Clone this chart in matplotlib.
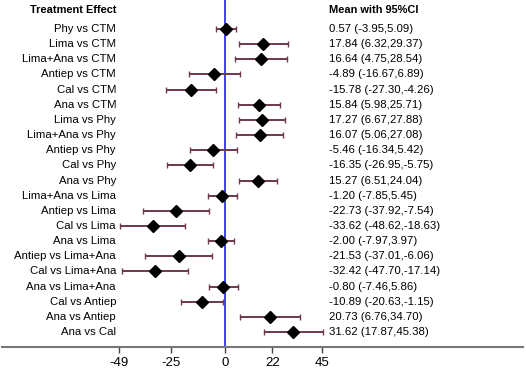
import matplotlib
matplotlib.use('Agg')
import matplotlib.pyplot as plt
import numpy as np

plt.rcParams['font.family'] = ['Liberation Sans', 'DejaVu Sans']

# Data
labels = ['Phy vs CTM', 'Lima vs CTM', 'Lima+Ana vs CTM', 'Antiep vs CTM', 'Cal vs CTM',
          'Ana vs CTM', 'Lima vs Phy', 'Lima+Ana vs Phy', 'Antiep vs Phy', 'Cal vs Phy',
          'Ana vs Phy', 'Lima+Ana vs Lima', 'Antiep vs Lima', 'Cal vs Lima', 'Ana vs Lima',
          'Antiep vs Lima+Ana', 'Cal vs Lima+Ana', 'Ana vs Lima+Ana', 'Cal vs Antiep',
          'Ana vs Antiep', 'Ana vs Cal']
means = [0.57, 17.84, 16.64, -4.89, -15.78, 15.84, 17.27, 16.07, -5.46, -16.35, 15.27,
         -1.20, -22.73, -33.62, -2.00, -21.53, -32.42, -0.80, -10.89, 20.73, 31.62]
lower = [-3.95, 6.32, 4.75, -16.67, -27.30, 5.98, 6.67, 5.06, -16.34, -26.95, 6.51,
         -7.85, -37.92, -48.62, -7.97, -37.01, -47.70, -7.46, -20.63, 6.76, 17.87]
upper = [5.09, 29.37, 28.54, 6.89, -4.26, 25.71, 27.88, 27.08, 5.42, -5.75, 24.04,
         5.45, -7.54, -18.63, 3.97, -6.06, -17.14, 5.86, -1.15, 34.70, 45.38]
xticks = [-49, -25, 0, 22, 45]

W, H = 526, 371
fig = plt.figure(figsize=(W / 100, H / 100), dpi=100)
# axes: left px 2 -> right px 523, bottom spine at px 347, top at px 0
ax = fig.add_axes([2 / W, (H - 347) / H, 521 / W, 347 / H])

px_per_unit = 97 / 45.0
zero_px = 225
ax.set_xlim((2 - zero_px) / px_per_unit, (523 - zero_px) / px_per_unit)
row_px = 15.15
first_px = 29
ax.set_ylim((347 - first_px) / row_px, -first_px / row_px)

y = np.arange(len(labels))
means = np.array(means)
lower = np.array(lower)
upper = np.array(upper)

ax.axvline(0, color='#2f2fff', linewidth=1.3, zorder=1)

eb = ax.errorbar(means, y, xerr=[means - lower, upper - means], fmt='none',
                 ecolor='#6e3a46', elinewidth=1.4, capsize=2, capthick=1, zorder=2)
for cap in eb[1]:
    cap.set_color('black')
ax.plot(means, y, 'D', color='black', markersize=6, zorder=3)

fs = 8.2
lab_x = (116 - zero_px) / px_per_unit
txt_x = (329 - zero_px) / px_per_unit
for i, lab in enumerate(labels):
    ax.text(lab_x, i, lab, ha='right', va='center', fontsize=fs)
    ax.text(txt_x, i, f'{means[i]:.2f} ({lower[i]:.2f},{upper[i]:.2f})',
            ha='left', va='center', fontsize=fs)

head_y = (10 - first_px) / row_px
ax.text(lab_x, head_y, 'Treatment Effect', ha='right', va='center', fontsize=7.9, fontweight='bold')
ax.text(txt_x, head_y, 'Mean with 95%CI', ha='left', va='center', fontsize=7.9, fontweight='bold')

for s in ['top', 'left', 'right']:
    ax.spines[s].set_visible(False)
ax.spines['bottom'].set_color('#777777')
ax.spines['bottom'].set_linewidth(1.5)
ax.set_yticks([])
ax.set_xticks(xticks)
ax.set_xticklabels([str(t) for t in xticks])
ax.tick_params(axis='x', length=4, width=1, color='#444444', labelsize=9.5, pad=3)
ax.patch.set_alpha(0)

fig.savefig('out.png', dpi=100)
